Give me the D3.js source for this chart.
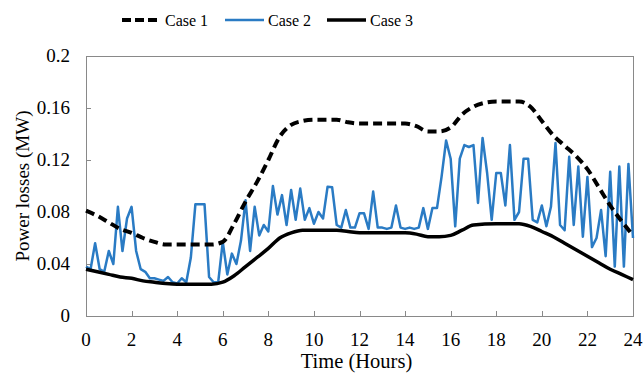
<!DOCTYPE html>
<html>
<head>
<meta charset="utf-8">
<title>power losses chart</title>
<script src="https://cdn.jsdelivr.net/npm/d3@7/dist/d3.min.js"></script>
<style>
    body { margin: 0; background-color: #fff; }
    svg text { font-family: "Liberation Serif", "Times New Roman", serif; fill: #000; }
    .frame { fill: none; stroke: #898989; stroke-width: 1px; }
    .tick-mark { stroke: #898989; stroke-width: 1px; }
</style>
</head>
<body>
<svg id="chart" width="643" height="374"></svg>
<script>
// series names
const seriesNames = ["Case 1", "Case 2", "Case 3"];

// axis ticks
const xTicks = [0, 2, 4, 6, 8, 10, 12, 14, 16, 18, 20, 22, 24];
const yTicks = [0, 0.04, 0.08, 0.12, 0.16, 0.2];
const yTickLabels = ["0", "0.04", "0.08", "0.12", "0.16", "0.2"];

// Case 1 (smooth, dashed)
const case1Hours = [0, 0.5, 1, 1.5, 2, 2.5, 3, 3.5, 4, 5, 5.5, 6, 6.5, 7, 7.5, 8, 8.5, 9, 9.5, 10, 11, 11.5,
    12, 13, 14, 14.5, 15, 15.5, 16, 16.5, 17, 17.5, 18, 19, 19.5, 20, 20.5, 21, 21.5, 22, 22.5, 23, 23.5, 24];
const case1Values = [0.081, 0.077, 0.072, 0.067, 0.064, 0.060, 0.057, 0.055, 0.055, 0.055, 0.055, 0.057,
    0.071, 0.088, 0.103, 0.120, 0.138, 0.147, 0.150, 0.151, 0.151, 0.149, 0.148, 0.148, 0.148, 0.146,
    0.142, 0.142, 0.145, 0.155, 0.161, 0.164, 0.165, 0.165, 0.161, 0.150, 0.139, 0.131, 0.123, 0.113,
    0.099, 0.085, 0.073, 0.062];

// Case 2 (noisy, every 0.2 h)
const case2Step = 0.2;
const case2Values = [
    0.038, 0.036, 0.056, 0.036, 0.034,
    0.050, 0.040, 0.084, 0.050, 0.075,
    0.084, 0.050, 0.036, 0.034, 0.029,
    0.029, 0.028, 0.027, 0.030, 0.026,
    0.025, 0.029, 0.026, 0.045, 0.086,
    0.086, 0.086, 0.030, 0.026, 0.026,
    0.057, 0.032, 0.048, 0.040, 0.058,
    0.089, 0.050, 0.084, 0.062, 0.070,
    0.065, 0.100, 0.078, 0.093, 0.070,
    0.097, 0.074, 0.098, 0.074, 0.083,
    0.071, 0.080, 0.075, 0.0995, 0.099,
    0.070, 0.068, 0.0815, 0.068, 0.068,
    0.079, 0.079, 0.067, 0.0957, 0.068,
    0.068, 0.067, 0.068, 0.085, 0.068,
    0.067, 0.068, 0.067, 0.068, 0.083,
    0.067, 0.083, 0.083, 0.107, 0.135,
    0.121, 0.069, 0.121, 0.1315, 0.130,
    0.1315, 0.087, 0.137, 0.110, 0.074,
    0.110, 0.110, 0.085, 0.1315, 0.074,
    0.080, 0.121, 0.121, 0.074, 0.072,
    0.085, 0.069, 0.084, 0.133, 0.070,
    0.066, 0.1225, 0.070, 0.115, 0.061,
    0.107, 0.053, 0.060, 0.0815, 0.046,
    0.111, 0.038, 0.115, 0.038, 0.117,
    0.060];

// Case 3 (smooth, solid black)
const case3Hours = [0, 0.5, 1, 1.5, 2, 2.5, 3, 3.5, 4, 5, 5.5, 6, 6.5, 7, 7.5, 8, 8.5, 9, 9.5, 10, 11, 11.5,
    12, 13, 14, 14.5, 15, 15.5, 16, 16.5, 17, 18, 19, 19.5, 20, 20.5, 21, 21.5, 22, 22.5, 23, 23.5, 24];
const case3Values = [0.036, 0.034, 0.032, 0.030, 0.029, 0.027, 0.026, 0.025, 0.0245, 0.0245, 0.0245,
    0.026, 0.031, 0.038, 0.045, 0.052, 0.060, 0.064, 0.066, 0.066, 0.066, 0.065, 0.064, 0.064, 0.064,
    0.063, 0.061, 0.061, 0.062, 0.066, 0.070, 0.071, 0.071, 0.069, 0.065, 0.061, 0.056, 0.051, 0.046,
    0.041, 0.036, 0.032, 0.028];

const margin = {top: 56, right: 10, bottom: 58, left: 86};
const width = 643 - margin.left - margin.right;
const height = 374 - margin.top - margin.bottom;

const svg = d3.select("#chart");
const g = svg.append("g").attr("transform", "translate(" + margin.left + "," + margin.top + ")");

const x = d3.scaleLinear().domain([0, 24]).range([0, width]);
const y = d3.scaleLinear().domain([0, 0.2]).range([height, 0]);

// frame
g.append("rect").attr("class", "frame")
    .attr("x", 0.5).attr("y", 0.5).attr("width", width).attr("height", height);

// ticks (inside)
g.selectAll(".xt").data(xTicks).enter().append("line")
    .attr("class", "tick-mark")
    .attr("x1", d => Math.round(x(d)) + 0.5).attr("x2", d => Math.round(x(d)) + 0.5)
    .attr("y1", height).attr("y2", height - 5);
g.selectAll(".yt").data(yTicks).enter().append("line")
    .attr("class", "tick-mark")
    .attr("x1", 0).attr("x2", 5)
    .attr("y1", d => Math.round(y(d)) + 0.5).attr("y2", d => Math.round(y(d)) + 0.5);

// tick labels
g.selectAll(".xl").data(xTicks).enter().append("text")
    .attr("x", d => x(d)).attr("y", height + 30)
    .attr("text-anchor", "middle").style("font-size", "19px")
    .text(d => d);
g.selectAll(".yl").data(yTicks).enter().append("text")
    .attr("x", -16).attr("y", d => y(d) + 6)
    .attr("text-anchor", "end").style("font-size", "19px")
    .text((d, i) => yTickLabels[i]);

// axis titles
g.append("text").attr("x", width / 2 - 3).attr("y", height + 52)
    .attr("text-anchor", "middle").style("font-size", "20.5px").text("Time (Hours)");
g.append("text").attr("transform", "translate(-57," + (height / 2) + ") rotate(-90)")
    .attr("text-anchor", "middle").style("font-size", "19px").text("Power losses (MW)");

// lines
const smooth = d3.line().x(d => x(d[0])).y(d => y(d[1])).curve(d3.curveMonotoneX);
const straight = d3.line().x(d => x(d[0])).y(d => y(d[1]));

const case2Data = case2Values.map((v, i) => [i * case2Step, v]);
g.append("path").attr("d", straight(case2Data))
    .attr("fill", "none").attr("stroke", "#2a7bc4").attr("stroke-width", 2.5)
    .attr("stroke-linejoin", "round");

g.append("path").attr("d", smooth(case3Hours.map((h, i) => [h, case3Values[i]])))
    .attr("fill", "none").attr("stroke", "#000").attr("stroke-width", 3.5);

g.append("path").attr("d", smooth(case1Hours.map((h, i) => [h, case1Values[i]])))
    .attr("fill", "none").attr("stroke", "#000").attr("stroke-width", 4)
    .attr("stroke-dasharray", "9,5");

// legend
const legendItems = [
    {name: seriesNames[0], x: 122, color: "#000", w: 4, dash: "9,4"},
    {name: seriesNames[1], x: 225, color: "#2a7bc4", w: 2.5, dash: null},
    {name: seriesNames[2], x: 327, color: "#000", w: 3.5, dash: null}
];
const legend = svg.append("g");
legendItems.forEach(function(it) {
    legend.append("line")
        .attr("x1", it.x).attr("x2", it.x + 39).attr("y1", 20).attr("y2", 20)
        .attr("stroke", it.color).attr("stroke-width", it.w)
        .attr("stroke-dasharray", it.dash);
    legend.append("text").attr("x", it.x + 43).attr("y", 26)
        .style("font-size", "16px").text(it.name);
});
</script>
</body>
</html>
